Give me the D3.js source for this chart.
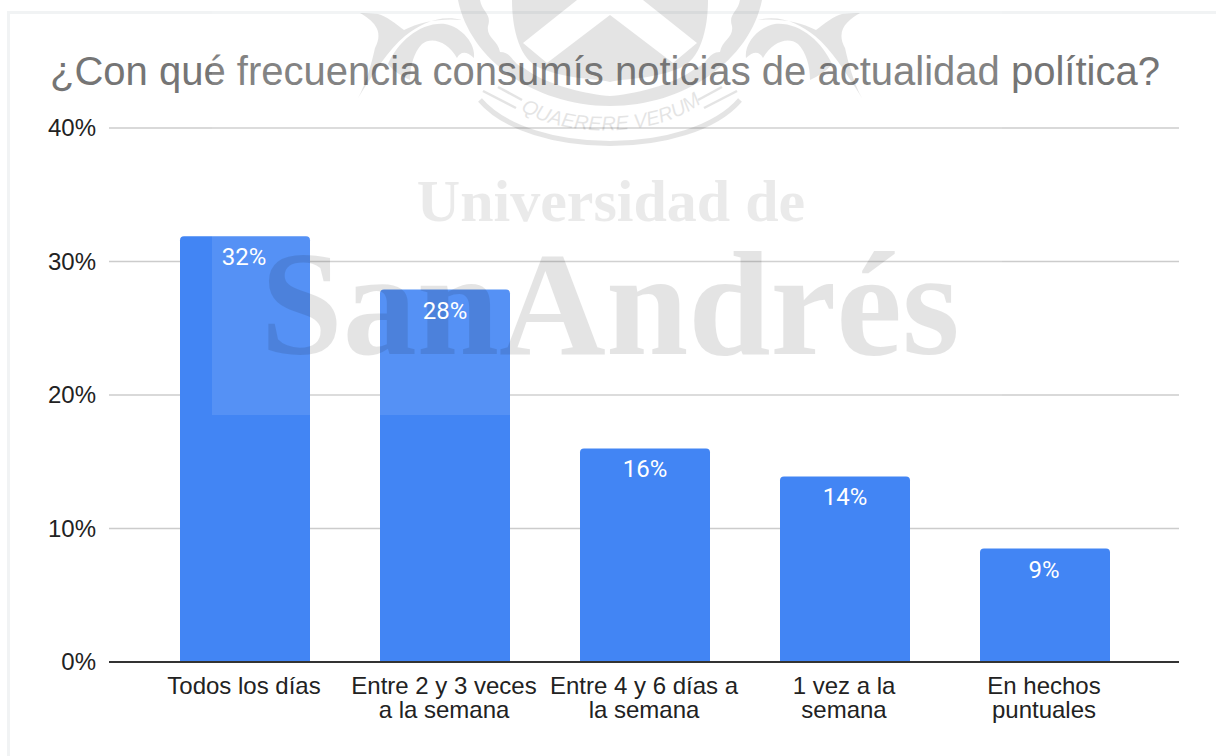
<!DOCTYPE html>
<html>
<head>
<meta charset="utf-8">
<script src="https://cdn.jsdelivr.net/npm/d3@7"></script>
<style>
  html, body { margin: 0; padding: 0; background: #fff; }
  svg { display: block; }
  .y-axis text, .x-axis text { font-family: "Liberation Sans", Arial, sans-serif; font-size: 24px; fill: #222; }
  .bar-label { font-family: Roboto, sans-serif; font-size: 24px; fill: #fff; text-anchor: middle; }
  .title { font-family: "Liberation Sans", Arial, sans-serif; font-size: 40px; fill: #757575; }
  .mark-text { font-family: "Liberation Serif", serif; font-weight: bold; fill: #000; }
</style>
</head>
<body>
<script>
var titleText = "¿Con qué frecuencia consumís noticias de actualidad política?";
var categories = [
  ["Todos los días"],
  ["Entre 2 y 3 veces", "a la semana"],
  ["Entre 4 y 6 días a", "la semana"],
  ["1 vez a la", "semana"],
  ["En hechos", "puntuales"]
];
var values = [31.9, 27.9, 16, 13.9, 8.5];
var valueLabels = ["32%", "28%", "16%", "14%", "9%"];
var yTicks = [0, 10, 20, 30, 40];

var width = 1216, height = 756;

var svg = d3.select("body").append("svg")
    .attr("width", width)
    .attr("height", height);

// frame of the chart card
svg.append("path")
    .attr("d", "M8.5,756V12.5H1216")
    .attr("fill", "none")
    .attr("stroke", "#f1f3f4")
    .attr("stroke-width", 3);

var x = d3.scaleBand()
    .domain(d3.range(categories.length))
    .range([145, 1145])
    .paddingInner(0.35)
    .paddingOuter(0.175);

var y = d3.scaleLinear()
    .domain([0, 40])
    .range([662, 128]);

svg.append("text")
    .attr("class", "title")
    .attr("x", 50)
    .attr("y", 85)
    .attr("textLength", 1110)
    .text(titleText);

var yAxis = d3.axisLeft(y)
    .tickValues(yTicks)
    .tickFormat(function(d) { return d + "%"; })
    .tickSize(0)
    .tickPadding(13);

var yg = svg.append("g")
    .attr("class", "y-axis")
    .attr("transform", "translate(109,0)")
    .call(yAxis);
yg.select(".domain").remove();

svg.append("g").selectAll("line")
    .data(yTicks.filter(function(d) { return d > 0; }))
  .enter().append("line")
    .attr("x1", 109)
    .attr("x2", 1179)
    .attr("y1", function(d) { return y(d); })
    .attr("y2", function(d) { return y(d); })
    .attr("stroke", "#cccccc")
    .attr("stroke-width", 1.5);

// bars, only the top corners are rounded
svg.append("g").selectAll("path")
    .data(values)
  .enter().append("path")
    .attr("fill", "#4285f4")
    .attr("d", function(d, i) {
      var x0 = x(i), x1 = x(i) + x.bandwidth(), t = y(d), b = y(0), r = 4;
      return "M" + x0 + "," + b + "V" + (t + r) + "Q" + x0 + "," + t + " " + (x0 + r) + "," + t +
        "H" + (x1 - r) + "Q" + x1 + "," + t + " " + x1 + "," + (t + r) + "V" + b + "Z";
    });

svg.append("line")
    .attr("x1", 109)
    .attr("x2", 1179)
    .attr("y1", y(0))
    .attr("y2", y(0))
    .attr("stroke", "#333")
    .attr("stroke-width", 2);

var xAxis = svg.append("g").attr("class", "x-axis");
xAxis.selectAll("text")
    .data(categories)
  .enter().append("text")
    .attr("text-anchor", "middle")
    .attr("transform", function(d, i) { return "translate(" + (x(i) + x.bandwidth() / 2 - 1) + ",0)"; })
    .selectAll("tspan")
    .data(function(d) { return d; })
  .enter().append("tspan")
    .attr("x", 0)
    .attr("y", function(d, i) { return 694 + i * 24; })
    .text(function(d) { return d; });

// watermark image that sits on top of the chart
var mark = svg.append("g").attr("class", "watermark");

mark.append("rect")
    .attr("x", 212).attr("y", 0)
    .attr("width", 790).attr("height", 415)
    .attr("fill", "#fff").attr("opacity", 0.1);

var crest = mark.append("g").attr("opacity", 0.1);
// ring around the shield, with the scalloped gap inside it
crest.append("path")
    .attr("fill-rule", "evenodd")
    .attr("d", "M458,0C470,60 535,106 610,106C685,106 750,60 762,0Z" +
      "M480,0C482,12 492,14 488,26C486,38 498,40 500,52C512,52 512,64 524,68C545,85 590,95 610,96C630,95 675,85 696,68C708,64 708,52 720,52C722,40 734,38 732,26C728,14 738,12 740,0Z");
// shield with the white chevron cut out
crest.append("path")
    .attr("fill-rule", "evenodd")
    .attr("d", "M512,0H708C708,30 700,60 680,68C650,80 625,78 610,82C595,78 570,80 540,68C520,60 512,30 512,0Z" +
      "M577,0L523,43L547,63L610,15L673,63L697,43L643,0Z");
// side leaves, right one is the mirror of the left one
[0, 1].forEach(function(side) {
  var leaf = crest.append("g");
  if (side) leaf.attr("transform", "translate(1220,0) scale(-1,1)");
  leaf.append("path")
      .attr("d", "M360,13C372,20 385,30 375,48C372,62 366,84 358,98C376,70 388,50 405,36C420,24 440,14 462,20C440,18 420,22 404,30C396,24 386,16 378,14Z");
  leaf.append("path")
      .attr("d", "M388,64C398,42 420,22 445,24C462,27 476,44 474,58C466,50 460,52 457,58C448,42 432,36 422,44C414,52 410,66 410,80C402,76 394,72 388,64Z");
  leaf.append("path")
      .attr("fill", "none").attr("stroke", "#000").attr("stroke-width", 2.5)
      .attr("d", "M483,91L516,108M498,87L522,100");
});
// ribbon
crest.append("path")
    .attr("fill", "none").attr("stroke", "#000").attr("stroke-width", 5)
    .attr("d", "M480,100C530,158 690,158 740,100");
crest.append("path").attr("id", "mottoArc").attr("fill", "none")
    .attr("d", "M522,111C565,138 655,138 700,104");
crest.append("text")
    .attr("font-family", "Liberation Sans, Arial, sans-serif")
    .attr("font-style", "italic")
    .attr("font-size", 20)
  .append("textPath")
    .attr("href", "#mottoArc")
    .attr("startOffset", "50%")
    .attr("text-anchor", "middle")
    .text("QUAERERE VERUM");

var words = mark.append("g");
words.append("text")
    .attr("class", "mark-text")
    .attr("x", 611).attr("y", 221)
    .attr("text-anchor", "middle")
    .attr("font-size", 60)
    .attr("opacity", 0.08)
    .text("Universidad de");
words.append("text")
    .attr("class", "mark-text")
    .attr("x", 610).attr("y", 354)
    .attr("text-anchor", "middle")
    .attr("font-size", 148)
    .attr("opacity", 0.1)
    .text("SanAndrés");

// value labels stay white above the watermark
svg.append("g").selectAll("text")
    .data(valueLabels)
  .enter().append("text")
    .attr("class", "bar-label")
    .attr("x", function(d, i) { return x(i) + x.bandwidth() / 2 + (i == 0 || i == 4 ? -1 : 0); })
    .attr("y", function(d, i) { return y(values[i]) + 29; })
    .text(function(d) { return d; });
</script>
</body>
</html>
